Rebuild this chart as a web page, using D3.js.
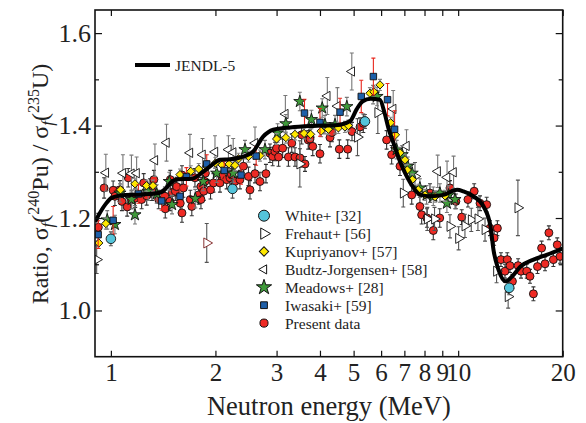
<!DOCTYPE html>
<html>
<head>
<meta charset="utf-8">
<script src="https://cdn.jsdelivr.net/npm/d3@7"></script>
<style>
  html, body { margin: 0; padding: 0; background: #fff; }
  svg { display: block; }
  text { font-family: "Liberation Serif", "Times New Roman", serif; fill: #222; }
</style>
</head>
<body>
<svg id="chart" width="586" height="423"></svg>
<script>
// JENDL-5 evaluation (energy in MeV, ratio)
const jendlEnergy = [0.9, 0.963, 1.007, 1.097, 1.229, 1.373, 1.431, 1.50, 1.568, 1.713, 1.83, 1.956,
  2.063, 2.204, 2.355, 2.568, 2.744, 2.934, 3.283, 3.75, 4.088, 4.576, 4.891, 5.1, 5.3, 5.6,
  5.95, 6.15, 6.3, 6.508, 6.82, 7.285, 7.786, 8.32, 9.07, 9.93, 10.36, 11.07, 11.83, 12.39,
  12.64, 13.07, 13.69, 14.31, 15.12, 16.49, 18.06, 20];
const jendlRatio = [1.192, 1.229, 1.244, 1.250, 1.251, 1.254, 1.262, 1.279, 1.284, 1.285, 1.298, 1.315,
  1.326, 1.327, 1.331, 1.344, 1.376, 1.391, 1.396, 1.399, 1.400, 1.402, 1.410, 1.435, 1.452, 1.458,
  1.456, 1.425, 1.394, 1.363, 1.320, 1.276, 1.250, 1.247, 1.250, 1.261, 1.2575, 1.247, 1.225, 1.182,
  1.131, 1.088, 1.063, 1.074, 1.095, 1.110, 1.121, 1.134];

// Experimental data: [energy (MeV), ratio, uncertainty]
const white = [[1.0, 1.155, 0.015], [2.24, 1.263, 0.02], [5.39, 1.409, 0.015], [14.03, 1.049, 0.015]];

const frehaut = [[0.91, 1.11, 0.03], [1.888, 1.146, 0.042], [3.50, 1.317, 0.05], [5.13, 1.375, 0.04],
  [5.87, 1.428, 0.045], [6.95, 1.254, 0.03], [7.51, 1.290, 0.03], [8.15, 1.198, 0.025], [8.55, 1.198, 0.025],
  [9.47, 1.182, 0.025], [10.03, 1.156, 0.025], [10.46, 1.183, 0.025], [10.91, 1.196, 0.025],
  [11.40, 1.198, 0.025], [11.95, 1.175, 0.025], [12.9, 1.085, 0.025], [13.93, 1.030, 0.025],
  [14.86, 1.222, 0.06]];

const kupriyanov = [[0.923, 1.146, 0.012], [0.967, 1.188, 0.012], [1.066, 1.261, 0.012], [1.173, 1.274, 0.012],
  [1.266, 1.270, 0.012], [1.322, 1.270, 0.012], [1.581, 1.294, 0.012], [1.698, 1.301, 0.012],
  [1.790, 1.306, 0.012], [1.885, 1.312, 0.012], [2.00, 1.319, 0.012], [2.09, 1.315, 0.012],
  [2.19, 1.317, 0.012], [2.277, 1.314, 0.012], [2.33, 1.328, 0.012], [2.49, 1.333, 0.012],
  [2.687, 1.335, 0.012], [3.0, 1.371, 0.012], [3.19, 1.374, 0.012], [3.389, 1.381, 0.012],
  [3.60, 1.383, 0.012], [3.76, 1.381, 0.012], [4.03, 1.388, 0.012], [4.23, 1.392, 0.012],
  [4.52, 1.395, 0.012], [4.72, 1.397, 0.012], [4.83, 1.400, 0.012], [5.57, 1.470, 0.012],
  [5.72, 1.473, 0.012], [5.955, 1.488, 0.012], [6.39, 1.406, 0.012], [6.60, 1.380, 0.012],
  [6.80, 1.341, 0.012], [7.03, 1.326, 0.012], [7.14, 1.304, 0.012], [7.38, 1.283, 0.012],
  [7.68, 1.261, 0.012], [8.03, 1.250, 0.012], [8.58, 1.246, 0.012], [9.16, 1.248, 0.012]];

const budtzJorgensen = [[0.967, 1.298, 0.04], [1.083, 1.297, 0.04], [1.146, 1.296, 0.04], [1.186, 1.297, 0.035],
  [1.339, 1.325, 0.035], [1.446, 1.363, 0.04], [1.689, 1.341, 0.04], [1.836, 1.337, 0.035],
  [1.994, 1.343, 0.035], [2.18, 1.348, 0.03], [2.25, 1.342, 0.03], [2.60, 1.362, 0.035],
  [3.18, 1.425, 0.04], [4.20, 1.464, 0.04], [4.49, 1.442, 0.04], [4.94, 1.517, 0.04],
  [6.5, 1.436, 0.04], [7.10, 1.356, 0.035], [8.73, 1.301, 0.035], [9.29, 1.288, 0.035],
  [9.70, 1.299, 0.035]];

const meadows = [[0.976, 1.196, 0.02], [1.027, 1.186, 0.02], [1.062, 1.254, 0.02], [1.147, 1.240, 0.02],
  [1.173, 1.207, 0.02], [1.28, 1.258, 0.02], [1.355, 1.252, 0.02], [1.473, 1.279, 0.02],
  [1.50, 1.229, 0.02], [1.75, 1.242, 0.02], [1.845, 1.279, 0.02], [2.017, 1.297, 0.02],
  [2.25, 1.297, 0.02], [2.433, 1.348, 0.02], [2.778, 1.348, 0.02], [3.02, 1.384, 0.02],
  [3.19, 1.404, 0.02], [3.50, 1.452, 0.02], [3.78, 1.413, 0.02], [4.06, 1.438, 0.02],
  [4.135, 1.402, 0.02], [4.42, 1.402, 0.02], [4.78, 1.441, 0.02], [5.69, 1.467, 0.02],
  [5.84, 1.463, 0.02], [6.65, 1.348, 0.02], [6.90, 1.337, 0.02], [7.16, 1.312, 0.02],
  [7.37, 1.297, 0.02], [7.76, 1.265, 0.02], [8.11, 1.250, 0.02], [8.48, 1.247, 0.02],
  [8.86, 1.254, 0.02], [9.28, 1.232, 0.02], [9.39, 1.250, 0.02], [9.79, 1.240, 0.02]];

const iwasaki = [[0.919, 1.164, 0.03], [1.015, 1.195, 0.03], [1.20, 1.252, 0.02], [1.40, 1.237, 0.02],
  [1.581, 1.247, 0.02], [1.65, 1.289, 0.02], [1.888, 1.317, 0.02], [2.12, 1.303, 0.02],
  [2.37, 1.293, 0.02], [2.62, 1.334, 0.02], [3.61, 1.427, 0.03], [4.0, 1.407, 0.03],
  [4.57, 1.429, 0.03], [5.26, 1.463, 0.035], [5.70, 1.506, 0.04], [6.26, 1.456, 0.035],
  [6.56, 1.392, 0.04]];

const presentData = [[0.92, 1.180, 0.03], [0.956, 1.265, 0.022], [1.015, 1.260, 0.02], [1.027, 1.247, 0.02],
  [1.062, 1.261, 0.02], [1.076, 1.236, 0.02], [1.114, 1.224, 0.02], [1.122, 1.287, 0.02],
  [1.147, 1.240, 0.02], [1.175, 1.243, 0.02], [1.226, 1.240, 0.02], [1.243, 1.276, 0.02],
  [1.268, 1.248, 0.02], [1.296, 1.265, 0.02], [1.313, 1.258, 0.02], [1.330, 1.283, 0.02],
  [1.373, 1.240, 0.02], [1.431, 1.247, 0.02], [1.434, 1.220, 0.02], [1.479, 1.236, 0.02],
  [1.483, 1.283, 0.02], [1.503, 1.255, 0.02], [1.533, 1.258, 0.02], [1.546, 1.268, 0.02],
  [1.584, 1.232, 0.02], [1.602, 1.211, 0.02], [1.602, 1.293, 0.02], [1.617, 1.265, 0.02],
  [1.693, 1.240, 0.02], [1.71, 1.225, 0.02], [1.746, 1.287, 0.02], [1.790, 1.250, 0.02],
  [1.817, 1.268, 0.02], [1.817, 1.240, 0.02], [1.851, 1.258, 0.02], [1.866, 1.279, 0.02],
  [1.871, 1.297, 0.02], [1.936, 1.261, 0.02], [1.974, 1.276, 0.02], [2.061, 1.276, 0.02],
  [2.084, 1.291, 0.02], [2.155, 1.283, 0.02], [2.202, 1.287, 0.02], [2.225, 1.294, 0.02],
  [2.277, 1.279, 0.02], [2.353, 1.283, 0.02], [2.408, 1.312, 0.02], [2.49, 1.290, 0.02],
  [2.515, 1.261, 0.02], [2.60, 1.296, 0.02], [2.687, 1.279, 0.02], [2.796, 1.296, 0.02],
  [2.871, 1.340, 0.02], [2.923, 1.333, 0.02], [2.968, 1.344, 0.02], [3.0, 1.351, 0.02],
  [3.04, 1.332, 0.02], [3.123, 1.351, 0.02], [3.245, 1.332, 0.02], [3.318, 1.362, 0.02],
  [3.389, 1.332, 0.02], [3.503, 1.330, 0.02], [3.543, 1.380, 0.02], [3.622, 1.317, 0.016],
  [3.70, 1.369, 0.02], [3.744, 1.371, 0.02], [3.813, 1.355, 0.02], [4.000, 1.339, 0.02],
  [4.275, 1.374, 0.02], [4.330, 1.385, 0.02], [4.548, 1.349, 0.02], [4.808, 1.349, 0.02],
  [4.946, 1.387, 0.02], [5.216, 1.397, 0.02], [5.331, 1.405, 0.02], [6.223, 1.369, 0.02],
  [6.434, 1.337, 0.02], [6.800, 1.312, 0.02], [7.35, 1.250, 0.02], [7.76, 1.225, 0.02],
  [7.85, 1.207, 0.02], [8.13, 1.200, 0.02], [8.296, 1.254, 0.02], [8.48, 1.173, 0.02],
  [8.85, 1.200, 0.02], [9.472, 1.265, 0.016], [9.85, 1.236, 0.016], [10.24, 1.202, 0.016],
  [10.67, 1.240, 0.016], [11.12, 1.258, 0.016], [11.56, 1.232, 0.016], [12.08, 1.229, 0.016],
  [12.35, 1.178, 0.016], [12.69, 1.157, 0.016], [12.97, 1.178, 0.016], [13.28, 1.110, 0.015],
  [13.64, 1.085, 0.015], [13.85, 1.110, 0.015], [14.10, 1.097, 0.015], [14.33, 1.063, 0.015],
  [14.88, 1.097, 0.015], [15.17, 1.085, 0.015], [15.76, 1.085, 0.015], [16.10, 1.074, 0.015],
  [16.47, 1.036, 0.015], [16.92, 1.095, 0.015], [17.39, 1.135, 0.015], [17.79, 1.101, 0.015],
  [18.25, 1.168, 0.015], [18.80, 1.110, 0.015], [19.29, 1.142, 0.015], [19.65, 1.117, 0.015]];

const xTickValues = [1, 2, 3, 4, 5, 6, 7, 8, 9, 10, 20];
const yTickValues = [1.0, 1.2, 1.4, 1.6];
const yMinorTickValues = [1.1, 1.3, 1.5];

const plot = { left: 95, top: 10, right: 562.7, bottom: 356.7 };

const svg = d3.select('#chart');

const x = d3.scaleLog().domain([0.9, 20]).range([plot.left, plot.right]);
const y = d3.scaleLinear().domain([0.9, 1.65]).range([plot.bottom, plot.top]);

svg.append('defs').append('clipPath')
    .attr('id', 'plot-clip')
  .append('rect')
    .attr('x', plot.left)
    .attr('y', plot.top)
    .attr('width', plot.right - plot.left)
    .attr('height', plot.bottom - plot.top);

const starSym = (s) => d3.symbol().type(d3.symbolStar).size(s)();
const circleSym = (s) => d3.symbol().type(d3.symbolCircle).size(s)();
const squareSym = (s) => d3.symbol().type(d3.symbolSquare).size(s)();
const triSym = (s) => d3.symbol().type(d3.symbolTriangle).size(s)();

// Series styling, in drawing order (legend order is separate)
const series = [
  { data: presentData, path: circleSym(50), rot: 0, fill: '#ee2a24', stroke: '#111', bar: '#333' },
  { data: budtzJorgensen, path: triSym(38), rot: -90, fill: '#fff', stroke: '#111', bar: '#777' },
  { data: frehaut, path: triSym(44), rot: 90, fill: '#fff', stroke: '#111', bar: '#555' },
  { data: meadows, path: starSym(46), rot: 0, fill: '#3f9a3a', stroke: '#111', bar: '#777' },
  { data: kupriyanov, path: squareSym(34), rot: 45, fill: '#ffe800', stroke: '#111', bar: '#888' },
  { data: iwasaki, path: squareSym(42), rot: 0, fill: '#1e5fa8', stroke: '#111', bar: '#e8281e' },
  { data: white, path: circleSym(72), rot: 0, fill: '#55c4da', stroke: '#111', bar: '#555' },
];

const dataLayer = svg.append('g').attr('clip-path', 'url(#plot-clip)');

series.forEach((s) => {
  const grp = dataLayer.append('g').attr('class', 'series');

  const bars = grp.selectAll('.err').data(s.data).enter().append('g')
    .attr('class', 'err')
    .style('stroke', s.bar)
    .style('stroke-width', 1.1);
  bars.append('line')
    .attr('x1', (d) => x(d[0])).attr('x2', (d) => x(d[0]))
    .attr('y1', (d) => y(d[1] - d[2])).attr('y2', (d) => y(d[1] + d[2]));
  bars.append('line')
    .attr('x1', (d) => x(d[0]) - 2).attr('x2', (d) => x(d[0]) + 2)
    .attr('y1', (d) => y(d[1] - d[2])).attr('y2', (d) => y(d[1] - d[2]));
  bars.append('line')
    .attr('x1', (d) => x(d[0]) - 2).attr('x2', (d) => x(d[0]) + 2)
    .attr('y1', (d) => y(d[1] + d[2])).attr('y2', (d) => y(d[1] + d[2]));

  grp.selectAll('.pt').data(s.data).enter().append('path')
    .attr('class', 'pt')
    .attr('d', s.path)
    .attr('transform', (d) => `translate(${x(d[0])},${y(d[1])}) rotate(${s.rot})`)
    .style('fill', s.fill)
    // the 1.9 MeV Frehaut point is outlined in dark red
    .style('stroke', (d) => (s.data === frehaut && d[0] === 1.888 ? '#7a1c1c' : s.stroke))
    .style('stroke-width', 0.9);
});

// JENDL-5 curve
const line = d3.line()
  .x((d) => x(d[0]))
  .y((d) => y(d[1]))
  .curve(d3.curveMonotoneX);

dataLayer.append('path')
  .datum(d3.zip(jendlEnergy, jendlRatio))
  .attr('d', line)
  .style('fill', 'none')
  .style('stroke', '#000')
  .style('stroke-width', 4)
  .style('stroke-linejoin', 'round');

// Axes: ticks point inward on all four sides
const fmtX = (d) => String(d);
const fmtY = d3.format('.1f');

const styleAxis = (g) => {
  g.select('.domain').remove();
  g.selectAll('.tick line').style('stroke', '#111').style('stroke-width', 1.2);
  g.selectAll('.tick text')
    .style('font-family', '"Liberation Serif", "Times New Roman", serif')
    .style('font-size', '26px')
    .style('fill', '#222');
};

svg.append('g')
  .attr('transform', `translate(0,${plot.bottom})`)
  .call(d3.axisBottom(x).tickValues(xTickValues).tickFormat(fmtX).tickSizeInner(-6).tickSizeOuter(0).tickPadding(7))
  .call(styleAxis)
  .call((g) => g.selectAll('.tick text').style('font-size', '25px'));

svg.append('g')
  .attr('transform', `translate(0,${plot.top})`)
  .call(d3.axisTop(x).tickValues(xTickValues).tickFormat('').tickSizeInner(-6).tickSizeOuter(0))
  .call(styleAxis);

svg.append('g')
  .attr('transform', `translate(${plot.left},0)`)
  .call(d3.axisLeft(y).tickValues(yTickValues).tickFormat(fmtY).tickSizeInner(-7).tickSizeOuter(0).tickPadding(4))
  .call(styleAxis);

svg.append('g')
  .attr('transform', `translate(${plot.left},0)`)
  .call(d3.axisLeft(y).tickValues(yMinorTickValues).tickFormat('').tickSizeInner(-4).tickSizeOuter(0))
  .call(styleAxis);

svg.append('g')
  .attr('transform', `translate(${plot.right},0)`)
  .call(d3.axisRight(y).tickValues(yTickValues).tickFormat('').tickSizeInner(-7).tickSizeOuter(0))
  .call(styleAxis);

svg.append('g')
  .attr('transform', `translate(${plot.right},0)`)
  .call(d3.axisRight(y).tickValues(yMinorTickValues).tickFormat('').tickSizeInner(-4).tickSizeOuter(0))
  .call(styleAxis);

svg.append('rect')
  .attr('x', plot.left)
  .attr('y', plot.top)
  .attr('width', plot.right - plot.left)
  .attr('height', plot.bottom - plot.top)
  .style('fill', 'none')
  .style('stroke', '#111')
  .style('stroke-width', 1.6);

// Axis titles
svg.append('text')
  .attr('x', (plot.left + plot.right) / 2)
  .attr('y', 415)
  .attr('text-anchor', 'middle')
  .style('font-size', '26.5px')
  .text('Neutron energy (MeV)');

const yTitle = svg.append('text')
  .attr('transform', 'translate(48,184) rotate(-90)')
  .attr('text-anchor', 'middle')
  .style('font-size', '24px');
yTitle.append('tspan').text('Ratio, σ');
yTitle.append('tspan').attr('dy', 5).style('font-size', '17px').style('font-style', 'italic').text('f');
yTitle.append('tspan').attr('dy', -5).text('(');
yTitle.append('tspan').attr('dy', -9).style('font-size', '16px').text('240');
yTitle.append('tspan').attr('dy', 9).text('Pu) / σ');
yTitle.append('tspan').attr('dy', 5).style('font-size', '17px').style('font-style', 'italic').text('f');
yTitle.append('tspan').attr('dy', -5).text('(');
yTitle.append('tspan').attr('dy', -9).style('font-size', '16px').text('235');
yTitle.append('tspan').attr('dy', 9).text('U)');

// JENDL-5 legend
svg.append('line')
  .attr('x1', 135).attr('x2', 170)
  .attr('y1', 65).attr('y2', 65)
  .style('stroke', '#000')
  .style('stroke-width', 4);
svg.append('text')
  .attr('x', 175)
  .attr('y', 70.5)
  .style('font-size', '15.5px')
  .text('JENDL-5');

// Data legend
const legendItems = [
  { label: 'White+ [32]', path: circleSym(95), rot: 0, fill: '#55c4da' },
  { label: 'Frehaut+ [56]', path: triSym(55), rot: 90, fill: '#fff' },
  { label: 'Kupriyanov+ [57]', path: squareSym(44), rot: 45, fill: '#ffe800' },
  { label: 'Budtz-Jorgensen+ [58]', path: triSym(36), rot: -90, fill: '#fff' },
  { label: 'Meadows+ [28]', path: starSym(72), rot: 0, fill: '#3f9a3a' },
  { label: 'Iwasaki+ [59]', path: squareSym(46), rot: 0, fill: '#1e5fa8' },
  { label: 'Present data', path: circleSym(52), rot: 0, fill: '#ee2a24' },
];

const rows = svg.append('g').attr('class', 'legend')
  .selectAll('.row').data(legendItems).enter().append('g')
    .attr('class', 'row')
    .attr('transform', (d, i) => `translate(264,${215.7 + i * 17.9})`);
rows.append('path')
  .attr('d', (d) => d.path)
  .attr('transform', (d) => `rotate(${d.rot})`)
  .style('fill', (d) => d.fill)
  .style('stroke', '#111')
  .style('stroke-width', 1);
rows.append('text')
  .attr('x', 21)
  .attr('y', 5.5)
  .style('font-size', '15.5px')
  .text((d) => d.label);
</script>
</body>
</html>
